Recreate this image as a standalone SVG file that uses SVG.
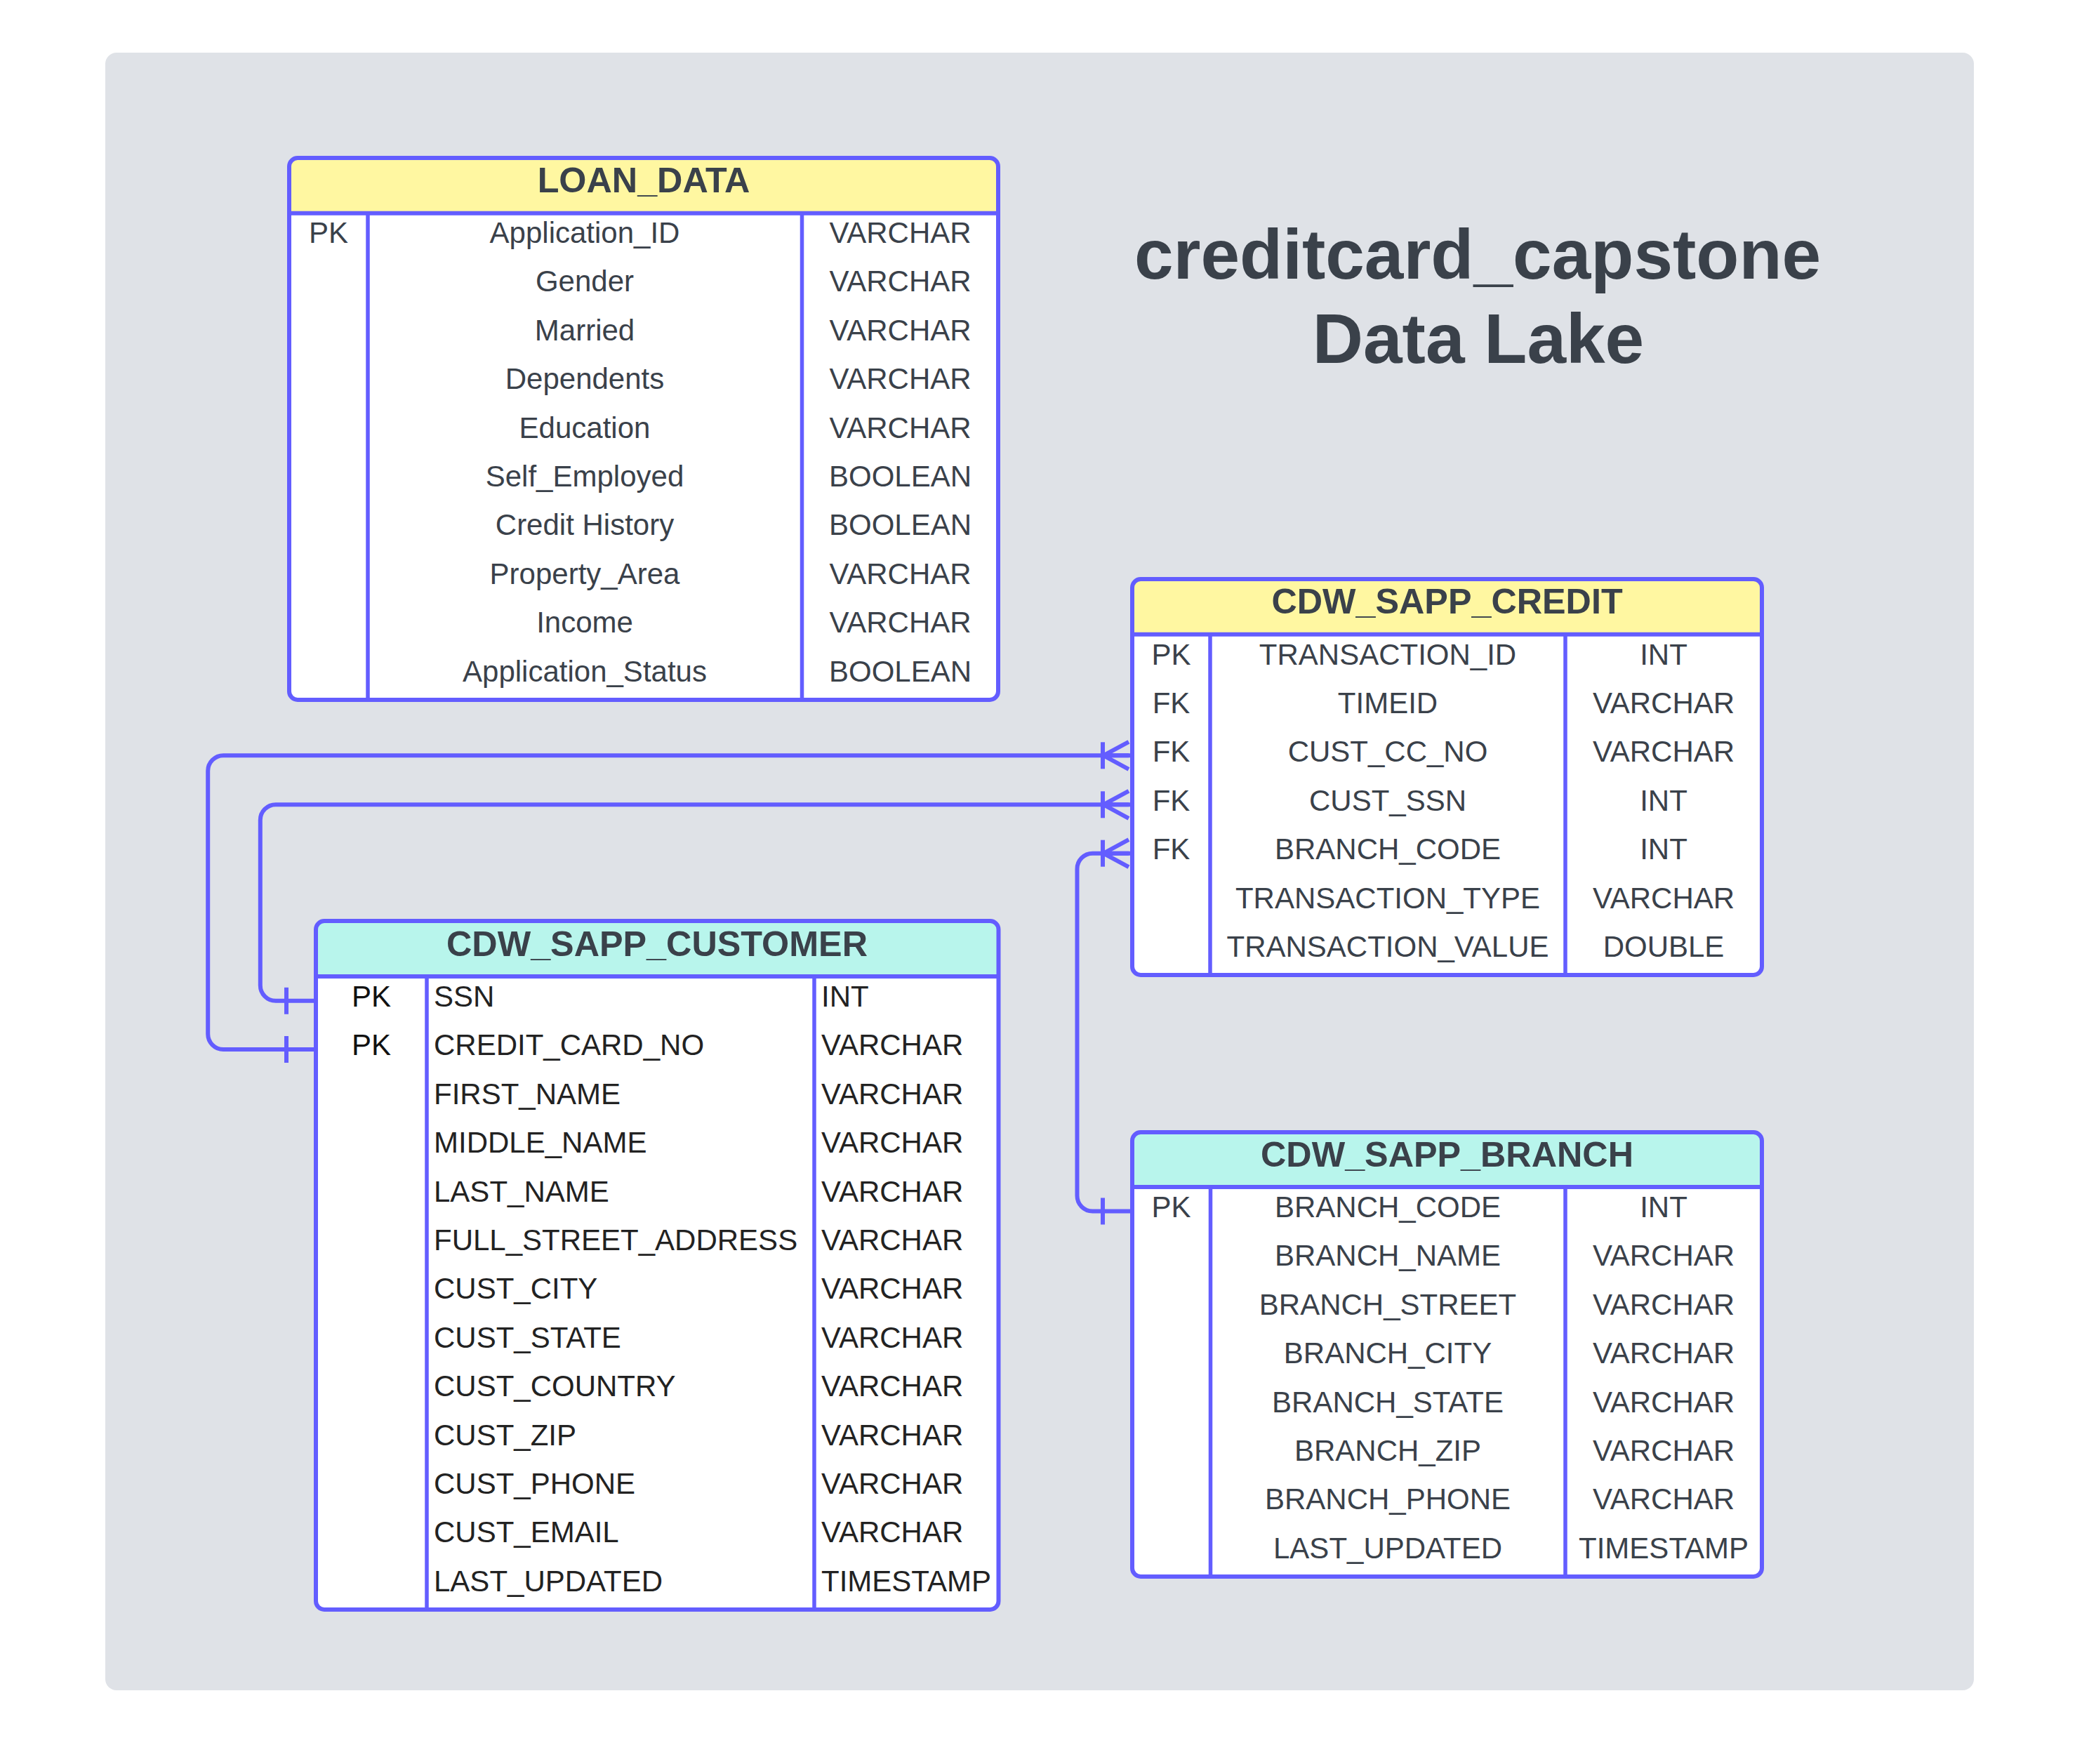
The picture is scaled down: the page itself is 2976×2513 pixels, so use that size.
<svg xmlns="http://www.w3.org/2000/svg" width="2976" height="2513" viewBox="0 0 2976 2513">
<style>
.frame{fill:none;stroke:#635dff;stroke-width:6}
.body{fill:#ffffff}
.yel{fill:#fff7a1}
.cyan{fill:#b8f5ec}
.div{stroke:#635dff;stroke-width:6}
.col{stroke:#635dff;stroke-width:5.5}
.hdr{font-family:"Liberation Sans",Arial,sans-serif;font-weight:bold;font-size:50.3px;fill:#3a414a;text-anchor:middle}
.cell{font-family:"Liberation Sans",Arial,sans-serif;font-size:42px;fill:#3a414a;text-anchor:middle}
.cust{font-family:"Liberation Sans",Arial,sans-serif;font-size:42px;fill:#222222}
.pk{text-anchor:middle;fill:#111111}
.title{font-family:"Liberation Sans",Arial,sans-serif;font-weight:bold;font-size:100px;fill:#3a414a;text-anchor:middle}
.conn{fill:none;stroke:#635dff;stroke-width:6}
</style>
<defs>
<marker id="one" markerUnits="userSpaceOnUse" viewBox="-50 -25 55 50" markerWidth="55" markerHeight="50" refX="0" refY="0" orient="auto-start-reverse" overflow="visible">
<line x1="-40" y1="-19" x2="-40" y2="19" stroke="#635dff" stroke-width="6"/>
</marker>
<marker id="many" markerUnits="userSpaceOnUse" viewBox="-50 -25 55 50" markerWidth="55" markerHeight="50" refX="0" refY="0" orient="auto" overflow="visible">
<line x1="-40" y1="-19" x2="-40" y2="19" stroke="#635dff" stroke-width="6"/>
<path d="M -3 -19.5 L -39 0 L -3 19.5 M -39 0 L -3 0" fill="none" stroke="#635dff" stroke-width="6"/>
</marker>
</defs>
<rect x="0" y="0" width="2976" height="2513" fill="#ffffff"/>
<rect x="150" y="75" width="2662" height="2333" rx="16" fill="#dfe2e7"/>

<g id="title">
<text class="title" x="2105" y="397">creditcard_capstone</text>
<text class="title" x="2106" y="517">Data Lake</text>
</g>

<g id="connectors">
<path class="conn" d="M 448 1495 H 318.2 A 22 22 0 0 1 296.2 1473 V 1098.3 A 22 22 0 0 1 318.2 1076.3 H 1611" marker-start="url(#one)" marker-end="url(#many)"/>
<path class="conn" d="M 448 1425.8 H 392.8 A 22 22 0 0 1 370.8 1403.8 V 1168.3 A 22 22 0 0 1 392.8 1146.3 H 1611" marker-start="url(#one)" marker-end="url(#many)"/>
<path class="conn" d="M 1611 1725.5 H 1556.5 A 22 22 0 0 1 1534.5 1703.5 V 1237.7 A 22 22 0 0 1 1556.5 1215.7 H 1611" marker-start="url(#one)" marker-end="url(#many)"/>
</g>

<g id="loan_data">
<rect class="body" x="412" y="225" width="1010" height="772" rx="12"/>
<path class="yel" d="M 412 237 A 12 12 0 0 1 424 225 H 1410 A 12 12 0 0 1 1422 237 V 303.7 H 412 Z"/>
<line class="div" x1="412" y1="303.7" x2="1422" y2="303.7"/>
<line class="col" x1="524" y1="303.7" x2="524" y2="997"/>
<line class="col" x1="1142.5" y1="303.7" x2="1142.5" y2="997"/>
<rect class="frame" x="412" y="225" width="1010" height="772" rx="12"/>
<text class="hdr" x="917" y="274">LOAN_DATA</text>
<text class="cell" x="468" y="346">PK</text>
<text class="cell" x="833" y="346">Application_ID</text>
<text class="cell" x="1282.5" y="346">VARCHAR</text>
<text class="cell" x="833" y="415.4">Gender</text>
<text class="cell" x="1282.5" y="415.4">VARCHAR</text>
<text class="cell" x="833" y="484.8">Married</text>
<text class="cell" x="1282.5" y="484.8">VARCHAR</text>
<text class="cell" x="833" y="554.2">Dependents</text>
<text class="cell" x="1282.5" y="554.2">VARCHAR</text>
<text class="cell" x="833" y="623.6">Education</text>
<text class="cell" x="1282.5" y="623.6">VARCHAR</text>
<text class="cell" x="833" y="693">Self_Employed</text>
<text class="cell" x="1282.5" y="693">BOOLEAN</text>
<text class="cell" x="833" y="762.4">Credit History</text>
<text class="cell" x="1282.5" y="762.4">BOOLEAN</text>
<text class="cell" x="833" y="831.8">Property_Area</text>
<text class="cell" x="1282.5" y="831.8">VARCHAR</text>
<text class="cell" x="833" y="901.2">Income</text>
<text class="cell" x="1282.5" y="901.2">VARCHAR</text>
<text class="cell" x="833" y="970.6">Application_Status</text>
<text class="cell" x="1282.5" y="970.6">BOOLEAN</text>
</g>

<g id="cdw_sapp_credit">
<rect class="body" x="1613" y="825" width="897" height="564" rx="12"/>
<path class="yel" d="M 1613 837 A 12 12 0 0 1 1625 825 H 2498 A 12 12 0 0 1 2510 837 V 903.8 H 1613 Z"/>
<line class="div" x1="1613" y1="903.8" x2="2510" y2="903.8"/>
<line class="col" x1="1724" y1="903.8" x2="1724" y2="1389"/>
<line class="col" x1="2230" y1="903.8" x2="2230" y2="1389"/>
<rect class="frame" x="1613" y="825" width="897" height="564" rx="12"/>
<text class="hdr" x="2061.5" y="874">CDW_SAPP_CREDIT</text>
<text class="cell" x="1668.5" y="946.6">PK</text>
<text class="cell" x="1977" y="946.6">TRANSACTION_ID</text>
<text class="cell" x="2370" y="946.6">INT</text>
<text class="cell" x="1668.5" y="1016">FK</text>
<text class="cell" x="1977" y="1016">TIMEID</text>
<text class="cell" x="2370" y="1016">VARCHAR</text>
<text class="cell" x="1668.5" y="1085.4">FK</text>
<text class="cell" x="1977" y="1085.4">CUST_CC_NO</text>
<text class="cell" x="2370" y="1085.4">VARCHAR</text>
<text class="cell" x="1668.5" y="1154.8">FK</text>
<text class="cell" x="1977" y="1154.8">CUST_SSN</text>
<text class="cell" x="2370" y="1154.8">INT</text>
<text class="cell" x="1668.5" y="1224.2">FK</text>
<text class="cell" x="1977" y="1224.2">BRANCH_CODE</text>
<text class="cell" x="2370" y="1224.2">INT</text>
<text class="cell" x="1977" y="1293.6">TRANSACTION_TYPE</text>
<text class="cell" x="2370" y="1293.6">VARCHAR</text>
<text class="cell" x="1977" y="1363">TRANSACTION_VALUE</text>
<text class="cell" x="2370" y="1363">DOUBLE</text>
</g>

<g id="cdw_sapp_customer">
<rect class="body" x="450" y="1312" width="972.5" height="981" rx="12"/>
<path class="cyan" d="M 450 1324 A 12 12 0 0 1 462 1312 H 1410.5 A 12 12 0 0 1 1422.5 1324 V 1391 H 450 Z"/>
<line class="div" x1="450" y1="1391" x2="1422.5" y2="1391"/>
<line class="col" x1="608" y1="1391" x2="608" y2="2293"/>
<line class="col" x1="1160" y1="1391" x2="1160" y2="2293"/>
<rect class="frame" x="450" y="1312" width="972.5" height="981" rx="12"/>
<text class="hdr" x="936" y="1362">CDW_SAPP_CUSTOMER</text>
<text class="cust pk" x="529" y="1434">PK</text>
<text class="cust" x="618" y="1434">SSN</text>
<text class="cust" x="1170" y="1434">INT</text>
<text class="cust pk" x="529" y="1503.4">PK</text>
<text class="cust" x="618" y="1503.4">CREDIT_CARD_NO</text>
<text class="cust" x="1170" y="1503.4">VARCHAR</text>
<text class="cust" x="618" y="1572.8">FIRST_NAME</text>
<text class="cust" x="1170" y="1572.8">VARCHAR</text>
<text class="cust" x="618" y="1642.2">MIDDLE_NAME</text>
<text class="cust" x="1170" y="1642.2">VARCHAR</text>
<text class="cust" x="618" y="1711.6">LAST_NAME</text>
<text class="cust" x="1170" y="1711.6">VARCHAR</text>
<text class="cust" x="618" y="1781">FULL_STREET_ADDRESS</text>
<text class="cust" x="1170" y="1781">VARCHAR</text>
<text class="cust" x="618" y="1850.4">CUST_CITY</text>
<text class="cust" x="1170" y="1850.4">VARCHAR</text>
<text class="cust" x="618" y="1919.8">CUST_STATE</text>
<text class="cust" x="1170" y="1919.8">VARCHAR</text>
<text class="cust" x="618" y="1989.2">CUST_COUNTRY</text>
<text class="cust" x="1170" y="1989.2">VARCHAR</text>
<text class="cust" x="618" y="2058.6">CUST_ZIP</text>
<text class="cust" x="1170" y="2058.6">VARCHAR</text>
<text class="cust" x="618" y="2128">CUST_PHONE</text>
<text class="cust" x="1170" y="2128">VARCHAR</text>
<text class="cust" x="618" y="2197.4">CUST_EMAIL</text>
<text class="cust" x="1170" y="2197.4">VARCHAR</text>
<text class="cust" x="618" y="2266.8">LAST_UPDATED</text>
<text class="cust" x="1170" y="2266.8">TIMESTAMP</text>
</g>

<g id="cdw_sapp_branch">
<rect class="body" x="1613" y="1613" width="897" height="633" rx="12"/>
<path class="cyan" d="M 1613 1625 A 12 12 0 0 1 1625 1613 H 2498 A 12 12 0 0 1 2510 1625 V 1691 H 1613 Z"/>
<line class="div" x1="1613" y1="1691" x2="2510" y2="1691"/>
<line class="col" x1="1724.5" y1="1691" x2="1724.5" y2="2246"/>
<line class="col" x1="2230" y1="1691" x2="2230" y2="2246"/>
<rect class="frame" x="1613" y="1613" width="897" height="633" rx="12"/>
<text class="hdr" x="2061.5" y="1662">CDW_SAPP_BRANCH</text>
<text class="cell" x="1668.5" y="1734">PK</text>
<text class="cell" x="1977" y="1734">BRANCH_CODE</text>
<text class="cell" x="2370" y="1734">INT</text>
<text class="cell" x="1977" y="1803.4">BRANCH_NAME</text>
<text class="cell" x="2370" y="1803.4">VARCHAR</text>
<text class="cell" x="1977" y="1872.8">BRANCH_STREET</text>
<text class="cell" x="2370" y="1872.8">VARCHAR</text>
<text class="cell" x="1977" y="1942.2">BRANCH_CITY</text>
<text class="cell" x="2370" y="1942.2">VARCHAR</text>
<text class="cell" x="1977" y="2011.6">BRANCH_STATE</text>
<text class="cell" x="2370" y="2011.6">VARCHAR</text>
<text class="cell" x="1977" y="2081">BRANCH_ZIP</text>
<text class="cell" x="2370" y="2081">VARCHAR</text>
<text class="cell" x="1977" y="2150.4">BRANCH_PHONE</text>
<text class="cell" x="2370" y="2150.4">VARCHAR</text>
<text class="cell" x="1977" y="2219.8">LAST_UPDATED</text>
<text class="cell" x="2370" y="2219.8">TIMESTAMP</text>
</g>
</svg>
